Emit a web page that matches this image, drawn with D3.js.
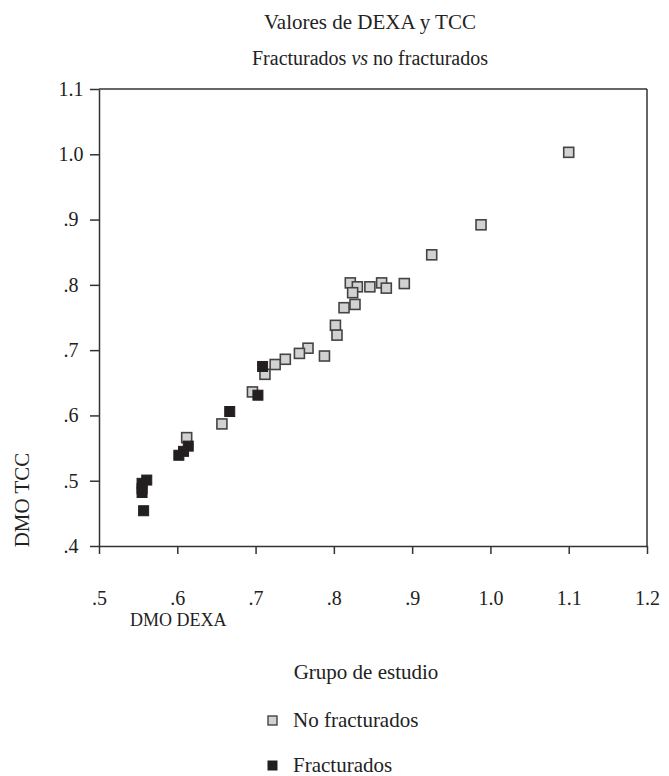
<!DOCTYPE html>
<html>
<head>
<meta charset="utf-8">
<script src="https://cdn.jsdelivr.net/npm/d3@7"></script>
<style>
  body { margin: 0; background: #fff; }
  text { font-family: "Liberation Serif", "DejaVu Serif", serif; fill: #222; }
</style>
</head>
<body>
<svg id="drawing_region"></svg>
<script>
// DMO DEXA (x) and DMO TCC (y) per group
var noFractX = [1.100, 0.988, 0.925, 0.821, 0.830, 0.824, 0.846, 0.861, 0.867, 0.890,
                0.827, 0.813, 0.802, 0.804, 0.767, 0.788, 0.756, 0.738, 0.725, 0.712,
                0.696, 0.657, 0.612];
var noFractY = [1.003, 0.892, 0.846, 0.803, 0.797, 0.788, 0.797, 0.803, 0.795, 0.802,
                0.770, 0.765, 0.738, 0.723, 0.703, 0.691, 0.695, 0.686, 0.678, 0.663,
                0.636, 0.587, 0.566];
var fractX = [0.709, 0.703, 0.667, 0.614, 0.608, 0.602, 0.561, 0.555, 0.555, 0.555, 0.557];
var fractY = [0.675, 0.631, 0.606, 0.553, 0.545, 0.539, 0.501, 0.496, 0.488, 0.482, 0.454];

var xTicks = [0.5, 0.6, 0.7, 0.8, 0.9, 1.0, 1.1, 1.2];
var yTicks = [0.4, 0.5, 0.6, 0.7, 0.8, 0.9, 1.0, 1.1];
var groups = ['No fracturados', 'Fracturados'];
var groupColors = ['#d2d2d2', '#231f20'];

var config = {
    width: 669,
    height: 776,
    margin: {top: 89, right: 22, bottom: 230, left: 99}
};

var svg = d3.select('#drawing_region')
    .attr('width', config.width)
    .attr('height', config.height);

var inner_width = config.width - config.margin.left - config.margin.right;
var inner_height = config.height - config.margin.top - config.margin.bottom;

var chart = svg.append('g')
    .attr('transform', `translate(${config.margin.left}, ${config.margin.top})`);

var xscale = d3.scaleLinear().domain([0.5, 1.2]).range([0, inner_width]);
var yscale = d3.scaleLinear().domain([0.4, 1.1]).range([inner_height, 0]);

// strip the leading zero like ".5", keep "1.0"
var fmt = d => d < 1 ? d3.format('.1f')(d).replace(/^0/, '') : d3.format('.1f')(d);

var xaxis = d3.axisBottom(xscale).tickValues(xTicks).tickFormat(fmt)
    .tickSizeInner(8).tickSizeOuter(0).tickPadding(37);
var yaxis = d3.axisLeft(yscale).tickValues(yTicks).tickFormat(fmt)
    .tickSizeInner(9).tickSizeOuter(0).tickPadding(4);

var xg = chart.append('g')
    .attr('transform', `translate(0, ${inner_height})`)
    .call(xaxis);
var yg = chart.append('g').call(yaxis);

[xg, yg].forEach(g => {
    g.select('.domain').attr('stroke', '#333').attr('stroke-width', 1.5);
    g.selectAll('.tick line').attr('stroke', '#333').attr('stroke-width', 1.5);
    g.selectAll('.tick text')
        .style('font-family', '"Liberation Serif", serif')
        .style('font-size', '20px')
        .attr('fill', '#222');
});
// y labels sit centred in the gutter left of the ticks
yg.selectAll('.tick text')
    .attr('text-anchor', 'middle')
    .attr('x', -28);

// top and right frame
chart.append('line')
    .attr('x1', 0).attr('x2', inner_width).attr('y1', 0).attr('y2', 0)
    .attr('stroke', '#333').attr('stroke-width', 1.5);
chart.append('line')
    .attr('x1', inner_width).attr('x2', inner_width).attr('y1', 0).attr('y2', inner_height)
    .attr('stroke', '#333').attr('stroke-width', 1.5);

var size = 10;
var noFract = noFractX.map((x, i) => ({x: x, y: noFractY[i]}));
var fract = fractX.map((x, i) => ({x: x, y: fractY[i]}));

chart.selectAll('rect.nf')
    .data(noFract)
    .enter()
    .append('rect')
    .attr('class', 'nf')
    .attr('x', d => xscale(d.x) - size / 2)
    .attr('y', d => yscale(d.y) - size / 2)
    .attr('width', size)
    .attr('height', size)
    .attr('fill', groupColors[0])
    .attr('stroke', '#444')
    .attr('stroke-width', 1.6);

chart.selectAll('rect.fr')
    .data(fract)
    .enter()
    .append('rect')
    .attr('class', 'fr')
    .attr('x', d => xscale(d.x) - size / 2)
    .attr('y', d => yscale(d.y) - size / 2)
    .attr('width', size)
    .attr('height', size)
    .attr('fill', groupColors[1])
    .attr('stroke', '#231f20')
    .attr('stroke-width', 1);

// titles
svg.append('text')
    .attr('x', 370).attr('y', 29)
    .attr('text-anchor', 'middle')
    .style('font-size', '21px')
    .text('Valores de DEXA y TCC');

var sub = svg.append('text')
    .attr('x', 370).attr('y', 65)
    .attr('text-anchor', 'middle')
    .style('font-size', '20px');
sub.append('tspan').text('Fracturados ');
sub.append('tspan').style('font-style', 'italic').text('vs');
sub.append('tspan').text(' no fracturados');

// axis labels
svg.append('text')
    .attr('transform', 'translate(29, 500) rotate(-90)')
    .attr('text-anchor', 'middle')
    .style('font-size', '21px')
    .text('DMO TCC');

svg.append('text')
    .attr('x', 130).attr('y', 626)
    .style('font-size', '18px')
    .text('DMO DEXA');

// legend
svg.append('text')
    .attr('x', 366).attr('y', 679)
    .attr('text-anchor', 'middle')
    .style('font-size', '21px')
    .text('Grupo de estudio');

var legend = svg.selectAll('g.legend')
    .data(groups)
    .enter()
    .append('g')
    .attr('class', 'legend')
    .attr('transform', (d, i) => `translate(268, ${720 + i * 45})`);

legend.append('rect')
    .attr('x', 0).attr('y', -4)
    .attr('width', 9).attr('height', 9)
    .attr('fill', (d, i) => groupColors[i])
    .attr('stroke', (d, i) => i === 0 ? '#444' : '#231f20')
    .attr('stroke-width', (d, i) => i === 0 ? 1.4 : 1);

legend.append('text')
    .attr('x', 25).attr('y', 7)
    .style('font-size', '21px')
    .text(d => d);
</script>
</body>
</html>
